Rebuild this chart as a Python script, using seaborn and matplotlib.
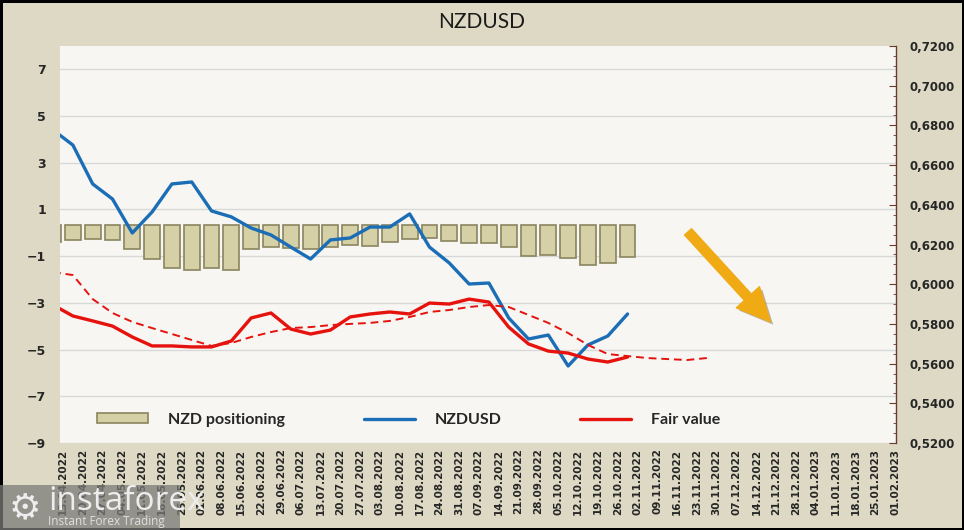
import numpy as np
import pandas as pd
import matplotlib
matplotlib.use("Agg")
import matplotlib.pyplot as plt
import seaborn as sns
from matplotlib.patches import Patch, FancyArrowPatch, Rectangle
from matplotlib.lines import Line2D
from matplotlib.ticker import FuncFormatter, MultipleLocator
import matplotlib.patheffects as pe

# weekly axis labels
week_labels = pd.date_range("2022-04-13", "2023-02-01", freq="7D").strftime("%d.%m.%Y").tolist()

# NZD positioning (bars hang down from the top line)
positioning = [-0.41, -0.32, -0.28, -0.32, -0.71, -1.14, -1.52, -1.61, -1.52, -1.61,
               -0.71, -0.62, -0.67, -0.71, -0.62, -0.54, -0.58, -0.41, -0.28, -0.24,
               -0.37, -0.45, -0.45, -0.62, -1.01, -0.97, -1.09, -1.39, -1.30, -1.05]
bar_top = 0.32

nzdusd = [0.6777, 0.6701, 0.6505, 0.6429, 0.6258, 0.6364, 0.6505, 0.6515, 0.6369, 0.6339,
          0.6283, 0.6248, 0.6187, 0.6127, 0.6223, 0.6233, 0.6288, 0.6288, 0.6354, 0.6187,
          0.6107, 0.6001, 0.6006, 0.5830, 0.5724, 0.5744, 0.5588, 0.5694, 0.5739, 0.5850]

fair_value = [0.5895, 0.5840, 0.5815, 0.5789, 0.5734, 0.5689, 0.5689, 0.5684, 0.5684, 0.5714,
              0.5830, 0.5855, 0.5774, 0.5749, 0.5769, 0.5835, 0.5850, 0.5860, 0.5850, 0.5905,
              0.5900, 0.5925, 0.5910, 0.5784, 0.5699, 0.5663, 0.5653, 0.5623, 0.5608, 0.5633]

fair_trend = [0.6061, 0.6046, 0.5925, 0.5855, 0.5810, 0.5779, 0.5749, 0.5719, 0.5689, 0.5704,
              0.5734, 0.5759, 0.5779, 0.5784, 0.5794, 0.5800, 0.5805, 0.5815, 0.5835, 0.5860,
              0.5870, 0.5885, 0.5895, 0.5885, 0.5845, 0.5805, 0.5754, 0.5694, 0.5648, 0.5638,
              0.5628, 0.5623, 0.5618, 0.5628]

# data points sit half a week after the axis labels
pos = np.arange(len(nzdusd)) - 0.5
pos_trend = np.arange(len(fair_trend)) - 0.5

bg = "#DDD9C4"
plot_bg = "#F7F6F2"
bar_color = "#D6D0A6"
bar_edge = "#8A855E"
blue = "#1B6DB5"
red = "#E5120E"

sns.set_style("white")
plt.rcParams["font.family"] = ["DejaVu Sans"]

fig = plt.figure(figsize=(9.64, 5.30), dpi=100, facecolor=bg)
fig.patch.set_edgecolor("black")
fig.patch.set_linewidth(2.5)
ax = fig.add_axes([60 / 964, 87 / 530, 836 / 964, 397 / 530])
ax.set_facecolor(plot_bg)

ax.bar(pos, np.array(positioning) - bar_top, bottom=bar_top, width=0.8,
       color=bar_color, edgecolor=bar_edge, linewidth=1.2, zorder=2)
ax.set_ylim(-9, 8)
ax.set_yticks(np.arange(-9, 8, 2))
ax.yaxis.grid(True, color="#D8D8D8", linewidth=1)
ax.set_axisbelow(True)
ax.set_xlim(-0.15, 42.05)
ax.set_xticks(np.arange(len(week_labels)))
ax.set_xticklabels(week_labels, rotation=90, fontsize=7.5, fontweight="bold")
ax.tick_params(axis="x", length=0, pad=4)
ax.tick_params(axis="y", length=0, pad=10, labelsize=9)
for t in ax.get_yticklabels():
    t.set_fontweight("bold")
for s in ax.spines.values():
    s.set_visible(False)

ax2 = ax.twinx()
sns.lineplot(x=pos, y=nzdusd, ax=ax2, color=blue, linewidth=2.4, zorder=3)
sns.lineplot(x=pos, y=fair_value, ax=ax2, color=red, linewidth=2.4, zorder=3)
sns.lineplot(x=pos_trend, y=fair_trend, ax=ax2, color=red, linewidth=1.4,
             linestyle=(0, (4, 2.5)), zorder=3)
ax2.set_ylim(0.52, 0.72)
ax2.yaxis.set_major_locator(MultipleLocator(0.02))
ax2.yaxis.set_minor_locator(MultipleLocator(0.005))
ax2.yaxis.set_major_formatter(FuncFormatter(lambda v, p: f"{v:.4f}".replace(".", ",")))
ax2.tick_params(axis="y", which="major", direction="in", length=5, color="#6B3A2E",
                labelsize=8.5, pad=10)
ax2.tick_params(axis="y", which="minor", direction="in", length=2.5, color="#6B3A2E")
for t in ax2.get_yticklabels():
    t.set_fontweight("bold")
for name, s in ax2.spines.items():
    s.set_visible(name == "right")
ax2.spines["right"].set_color("#6B3A2E")
ax2.spines["right"].set_linewidth(1)
ax2.set_xlim(-0.15, 42.05)

# legend
handles = [Patch(facecolor=bar_color, edgecolor=bar_edge, linewidth=1.2),
           Line2D([], [], color=blue, linewidth=2.4),
           Line2D([], [], color=red, linewidth=2.4)]
ax2.legend(handles, ["NZD positioning", "NZDUSD", "Fair value"], ncol=3, frameon=False,
           loc="center left", bbox_to_anchor=(0.035, 0.058), borderpad=0,
           handlelength=3.2, handleheight=0.6, handletextpad=1.25, columnspacing=4.9,
           prop={"family": "Lato", "weight": "bold", "size": 11.5})

# trend arrow
arrow = FancyArrowPatch((0.749, 0.537), (0.852, 0.300), transform=ax2.transAxes,
                        arrowstyle="simple,tail_width=0.45,head_width=1.5,head_length=1.6",
                        mutation_scale=15, color="#F0AA14", zorder=5, capstyle="round")
arrow.set_path_effects([pe.SimplePatchShadow(offset=(2, -2), alpha=0.35), pe.Normal()])
ax2.add_patch(arrow)

fig.text(0.5, 1 - 22 / 530, "NZDUSD", ha="center", va="center", fontsize=15,
         family="Lato", color="#1A1A1A")

# watermark
fig.patches.append(Rectangle((0, 0), 180 / 964, 45 / 530, transform=fig.transFigure,
                             facecolor="#7A7A78", alpha=0.75, edgecolor="none", zorder=10))
fig.text(48 / 964, 20 / 530, "instaforex", fontsize=24, color="#EDEDED", family="Open Sans",
         va="baseline", zorder=11)
fig.text(48 / 964, 5 / 530, "Instant Forex Trading", fontsize=8.5, color="#E0E0E0",
         family="Open Sans", va="baseline", zorder=11)
fig.text(25 / 964, 22 / 530, "\u2699", fontsize=26, color="#EDEDED", ha="center",
         va="center", zorder=11)

fig.savefig("out.png", dpi=100, facecolor=bg, edgecolor="black")
